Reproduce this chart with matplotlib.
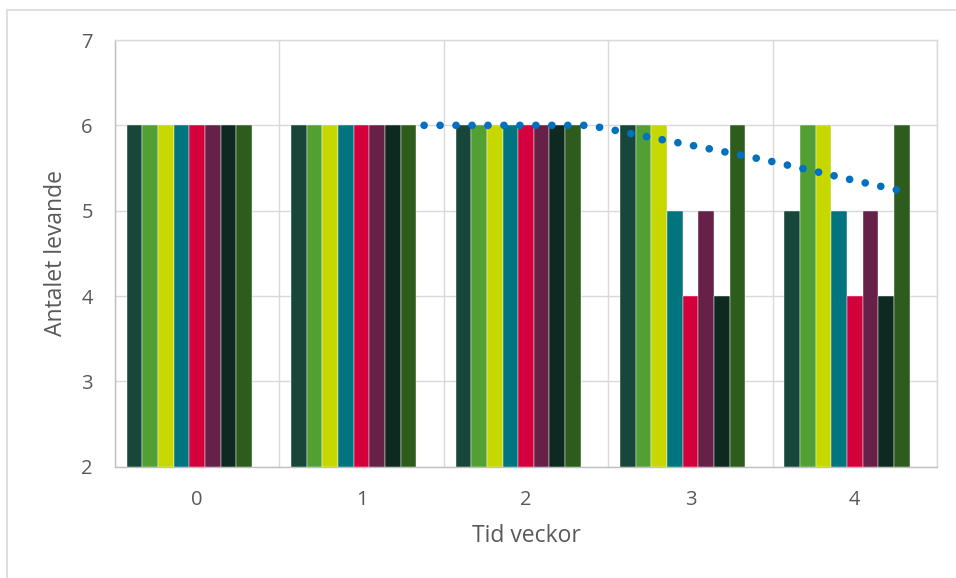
import matplotlib
matplotlib.use("Agg")
import matplotlib.pyplot as plt
from matplotlib.patches import Rectangle
import numpy as np

plt.rcParams['font.family'] = ['Open Sans', 'DejaVu Sans']

# Weeks on the x axis
weeks = ["0", "1", "2", "3", "4"]

# Number alive per group (8 groups) and week
group_values = [
    [6, 6, 6, 6, 5],
    [6, 6, 6, 6, 6],
    [6, 6, 6, 6, 6],
    [6, 6, 6, 5, 5],
    [6, 6, 6, 4, 4],
    [6, 6, 6, 5, 5],
    [6, 6, 6, 4, 4],
    [6, 6, 6, 6, 6],
]
group_colors = ["#17473a", "#52a034", "#c6d800", "#00757f",
                "#d4003b", "#672047", "#0e2a20", "#2e5c1c"]

# Dotted trend curve (x in category units, y = number alive)
trend_x = [1.38, 2.37, 2.47, 2.57, 2.66, 2.86, 3.05, 3.44, 3.73, 4.02, 4.31]
trend_y = [6.00, 6.00, 5.97, 5.93, 5.895, 5.82, 5.75, 5.60, 5.473, 5.344, 5.22]

text_color = "#595959"
grid_color = "#d9d9d9"
axis_color = "#bfbfbf"

fig = plt.figure(figsize=(9.56, 5.78), dpi=100)
ax = fig.add_axes([115/956, 1 - 466.7/578, 822/956, (466.7 - 40)/578])

# nine slots per category; the last slot is left empty
n_slots = 9
group_width = 0.857
bar_w = group_width / n_slots
x = np.arange(len(weeks))
for i, (vals, col) in enumerate(zip(group_values, group_colors)):
    offset = (i - (n_slots - 1) / 2) * bar_w
    ax.bar(x + offset, np.array(vals) - 2, width=bar_w, bottom=2, color=col,
           edgecolor="white", linewidth=0.3, zorder=3)

ax.plot(trend_x, trend_y, color="#0070c0", linewidth=5.5,
        linestyle=(0, (0.01, 2.08)), dash_capstyle="round", zorder=5)

ax.set_xlim(-0.5, 4.5)
ax.set_ylim(2, 7)
ax.set_yticks(range(2, 8))
ax.set_xticks(x)
ax.set_xticklabels(weeks)
ax.set_xticks(np.arange(-0.5, 4.6, 1.0), minor=True)

ax.grid(axis="y", which="major", color=grid_color, linewidth=1.0, zorder=0)
ax.grid(axis="x", which="minor", color=grid_color, linewidth=1.0, zorder=0)
ax.tick_params(axis="both", which="both", length=0, labelsize=14.5,
               labelcolor=text_color)
ax.tick_params(axis="y", pad=16)
ax.tick_params(axis="x", pad=17)

for side in ("top", "right"):
    ax.spines[side].set_color(grid_color)
    ax.spines[side].set_linewidth(1.0)
for side in ("left", "bottom"):
    ax.spines[side].set_color(axis_color)
    ax.spines[side].set_linewidth(1.0)

ax.set_xlabel("Tid veckor", fontsize=16.5, color=text_color, va="center")
ax.xaxis.set_label_coords(0.5, -(536 - 466.7) / 426.7)
ax.set_ylabel("Antalet levande", fontsize=16.5, color=text_color, va="center")
ax.yaxis.set_label_coords((56 - 115) / 822, 0.5)

# outer chart border
fig.patches.append(Rectangle((6.5/956, -0.1), 1.2, 1.1 - 9.5/578,
                             transform=fig.transFigure, fill=False,
                             edgecolor=grid_color, linewidth=1.2))

fig.savefig("out.png", dpi=100)
